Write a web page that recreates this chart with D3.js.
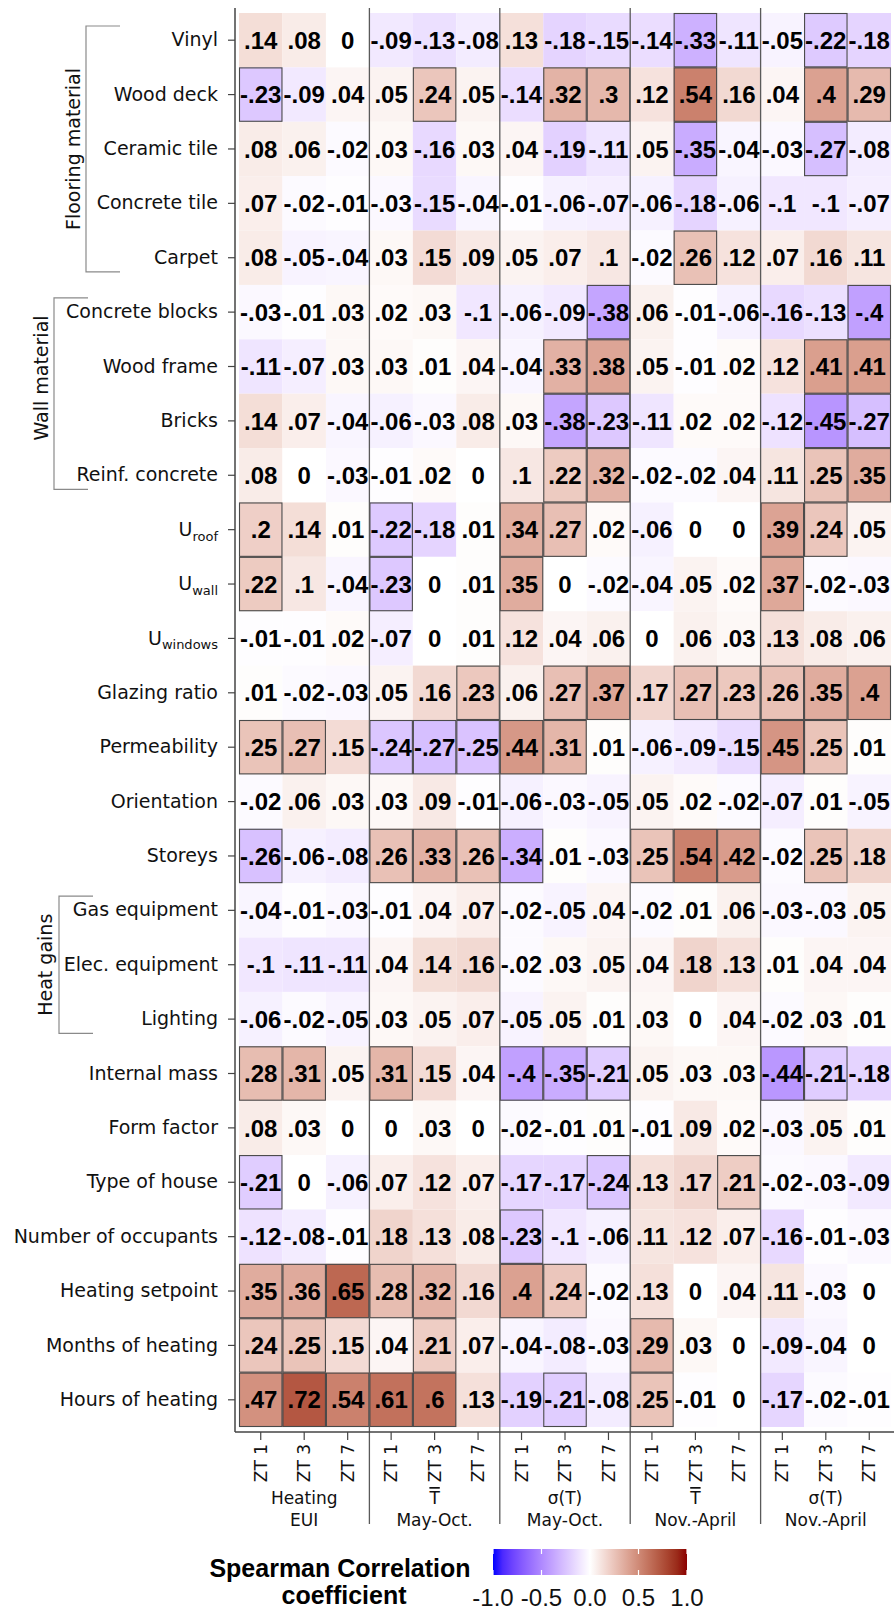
<!DOCTYPE html>
<html>
<head>
<meta charset="utf-8">
<script src="https://cdn.jsdelivr.net/npm/d3@7"></script>
<style>
  html, body { margin: 0; padding: 0; background: #fff; }
  svg { display: block; }
</style>
</head>
<body>
<script>
// Building parameters (rows of the heatmap)
const rowLabels = [
  "Vinyl", "Wood deck", "Ceramic tile", "Concrete tile", "Carpet",
  "Concrete blocks", "Wood frame", "Bricks", "Reinf. concrete",
  "Uroof", "Uwall", "Uwindows",
  "Glazing ratio", "Permeability", "Orientation", "Storeys",
  "Gas equipment", "Elec. equipment", "Lighting",
  "Internal mass", "Form factor", "Type of house", "Number of occupants",
  "Heating setpoint", "Months of heating", "Hours of heating"
];

// Thermal zones shown inside each output group
const zones = ["ZT 1", "ZT 3", "ZT 7"];

// Output groups: two-line titles
const groupTitles = [
  ["Heating", "EUI"],
  ["T", "May-Oct."],
  ["σ(T)", "May-Oct."],
  ["T", "Nov.-April"],
  ["σ(T)", "Nov.-April"]
];
const groupKeys = ["eui", "tMay", "sMay", "tNov", "sNov"];

// Spearman coefficients, one row per building parameter, columns ZT 1 / ZT 3 / ZT 7
const heatingEUI = [
  [.14, .08, 0], [-.23, -.09, .04], [.08, .06, -.02], [.07, -.02, -.01], [.08, -.05, -.04],
  [-.03, -.01, .03], [-.11, -.07, .03], [.14, .07, -.04], [.08, 0, -.03],
  [.2, .14, .01], [.22, .1, -.04], [-.01, -.01, .02],
  [.01, -.02, -.03], [.25, .27, .15], [-.02, .06, .03], [-.26, -.06, -.08],
  [-.04, -.01, -.03], [-.1, -.11, -.11], [-.06, -.02, -.05],
  [.28, .31, .05], [.08, .03, 0], [-.21, 0, -.06], [-.12, -.08, -.01],
  [.35, .36, .65], [.24, .25, .15], [.47, .72, .54]
];
const meanTMayOct = [
  [-.09, -.13, -.08], [.05, .24, .05], [.03, -.16, .03], [-.03, -.15, -.04], [.03, .15, .09],
  [.02, .03, -.1], [.03, .01, .04], [-.06, -.03, .08], [-.01, .02, 0],
  [-.22, -.18, .01], [-.23, 0, .01], [-.07, 0, .01],
  [.05, .16, .23], [-.24, -.27, -.25], [.03, .09, -.01], [.26, .33, .26],
  [-.01, .04, .07], [.04, .14, .16], [.03, .05, .07],
  [.31, .15, .04], [0, .03, 0], [.07, .12, .07], [.18, .13, .08],
  [.28, .32, .16], [.04, .21, .07], [.61, .6, .13]
];
const sdTMayOct = [
  [.13, -.18, -.15], [-.14, .32, .3], [.04, -.19, -.11], [-.01, -.06, -.07], [.05, .07, .1],
  [-.06, -.09, -.38], [-.04, .33, .38], [.03, -.38, -.23], [.1, .22, .32],
  [.34, .27, .02], [.35, 0, -.02], [.12, .04, .06],
  [.06, .27, .37], [.44, .31, .01], [-.06, -.03, -.05], [-.34, .01, -.03],
  [-.02, -.05, .04], [-.02, .03, .05], [-.05, .05, .01],
  [-.4, -.35, -.21], [-.02, -.01, .01], [-.17, -.17, -.24], [-.23, -.1, -.06],
  [.4, .24, -.02], [-.04, -.08, -.03], [-.19, -.21, -.08]
];
const meanTNovApr = [
  [-.14, -.33, -.11], [.12, .54, .16], [.05, -.35, -.04], [-.06, -.18, -.06], [-.02, .26, .12],
  [.06, -.01, -.06], [.05, -.01, .02], [-.11, .02, .02], [-.02, -.02, .04],
  [-.06, 0, 0], [-.04, .05, .02], [0, .06, .03],
  [.17, .27, .23], [-.06, -.09, -.15], [.05, .02, -.02], [.25, .54, .42],
  [-.02, .01, .06], [.04, .18, .13], [.03, 0, .04],
  [.05, .03, .03], [-.01, .09, .02], [.13, .17, .21], [.11, .12, .07],
  [.13, 0, .04], [.29, .03, 0], [.25, -.01, 0]
];
const sdTNovApr = [
  [-.05, -.22, -.18], [.04, .4, .29], [-.03, -.27, -.08], [-.1, -.1, -.07], [.07, .16, .11],
  [-.16, -.13, -.4], [.12, .41, .41], [-.12, -.45, -.27], [.11, .25, .35],
  [.39, .24, .05], [.37, -.02, -.03], [.13, .08, .06],
  [.26, .35, .4], [.45, .25, .01], [-.07, .01, -.05], [-.02, .25, .18],
  [-.03, -.03, .05], [.01, .04, .04], [-.02, .03, .01],
  [-.44, -.21, -.18], [-.03, .05, .01], [-.02, -.03, -.09], [-.16, -.01, -.03],
  [.11, -.03, 0], [-.09, -.04, 0], [-.17, -.02, -.01]
];
const groupValues = [heatingEUI, meanTMayOct, sdTMayOct, meanTNovApr, sdTNovApr];

// Parameter families drawn as brackets on the left
const families = [
  { name: "Flooring material", from: "Vinyl", to: "Carpet" },
  { name: "Wall material", from: "Concrete blocks", to: "Reinf. concrete" },
  { name: "Heat gains", from: "Gas equipment", to: "Lighting" }
];

// Legend breaks
const legendBreaks = [-1, -0.5, 0, 0.5, 1];

// ---------------------------------------------------------------------------
const W = 894, H = 1611;
const svg = d3.select("body").append("svg").attr("width", W).attr("height", H);

const colKeys = [];
groupKeys.forEach(g => zones.forEach(z => colKeys.push(g + "|" + z)));

const x = d3.scaleBand().domain(colKeys).range([239, 891]).padding(0);
const y = d3.scaleBand().domain(rowLabels).range([13, 1427]).padding(0);
const color = d3.scaleLinear().domain([-1, 0, 1])
  .range(["#0000ff", "#ffffff", "#8b0000"]).interpolate(d3.interpolateLab);

const cells = [];
rowLabels.forEach((r, i) => {
  groupKeys.forEach((g, gi) => {
    zones.forEach((z, zi) => {
      cells.push({ row: r, col: g + "|" + z, value: groupValues[gi][i][zi] });
    });
  });
});

// ".14", "-.09", "0", ".2" style labels with an ASCII hyphen
function fmt(v) {
  if (v === 0) return "0";
  const s = d3.format(".2f")(v).replace("\u2212", "-").replace(/0+$/, "");
  return s.replace(/^(-?)0\./, "$1.");
}
const strong = d => Math.abs(d.value) >= 0.195;

const axisFont = "'DejaVu Sans', Verdana, sans-serif";
const boldFont = "'Liberation Sans', Arial, sans-serif";

// tiles
svg.append("g").selectAll("rect")
  .data(cells).join("rect")
  .attr("x", d => x(d.col)).attr("y", d => y(d.row))
  .attr("width", x.bandwidth()).attr("height", y.bandwidth())
  .attr("fill", d => color(d.value));

// outlines for |r| >= 0.2
svg.append("g").selectAll("rect")
  .data(cells.filter(strong)).join("rect")
  .attr("x", d => x(d.col) + 0.5).attr("y", d => y(d.row) + 0.5)
  .attr("width", x.bandwidth() - 1).attr("height", y.bandwidth() - 1)
  .attr("fill", "none").attr("stroke", "#4a4a4a").attr("stroke-width", 1.1);

// group separators
const sepX = groupKeys.slice(1).map(g => x(g + "|" + zones[0]));
svg.append("g").selectAll("line")
  .data(sepX).join("line")
  .attr("x1", d => d).attr("x2", d => d)
  .attr("y1", 8).attr("y2", 1524)
  .attr("stroke", "#5a5a5a").attr("stroke-width", 1.3);

// value labels
svg.append("g").selectAll("text")
  .data(cells).join("text")
  .attr("x", d => x(d.col) + x.bandwidth() / 2)
  .attr("y", d => y(d.row) + y.bandwidth() / 2)
  .attr("dy", "0.36em")
  .attr("text-anchor", "middle")
  .attr("font-family", boldFont).attr("font-weight", "bold").attr("font-size", 24)
  .attr("fill", "#000")
  .text(d => fmt(d.value));

// panel axis lines
svg.append("line").attr("x1", 235).attr("x2", 235).attr("y1", 8).attr("y2", 1432)
  .attr("stroke", "#444").attr("stroke-width", 1.5);
svg.append("line").attr("x1", 235).attr("x2", 894).attr("y1", 1432).attr("y2", 1432)
  .attr("stroke", "#444").attr("stroke-width", 1.5);

// left axis
const subs = { "Uroof": "roof", "Uwall": "wall", "Uwindows": "windows" };
const yAxis = svg.append("g").attr("transform", "translate(235,0)")
  .call(d3.axisLeft(y).tickSize(7).tickPadding(10));
yAxis.select(".domain").remove();
yAxis.selectAll(".tick line").attr("stroke", "#444").attr("stroke-width", 1.2);
yAxis.selectAll(".tick text")
  .attr("font-family", axisFont).attr("font-size", 19).attr("fill", "#111")
  .each(function (d) {
    if (subs[d]) {
      const t = d3.select(this).text(null);
      t.append("tspan").text("U");
      t.append("tspan").attr("font-size", 13).attr("dy", "0.38em").text(subs[d]);
    }
  });

// bottom axis
const xAxis = svg.append("g").attr("transform", "translate(0,1432)")
  .call(d3.axisBottom(x).tickSize(8).tickFormat(d => d.split("|")[1]));
xAxis.select(".domain").remove();
xAxis.selectAll(".tick line").attr("stroke", "#444").attr("stroke-width", 1.2);
xAxis.selectAll(".tick text")
  .attr("font-family", axisFont).attr("font-size", 17).attr("fill", "#111")
  .attr("transform", "rotate(-90)")
  .attr("text-anchor", "end")
  .attr("x", -12).attr("y", 0).attr("dy", "0.36em");

// group titles under the axis
groupTitles.forEach((lines, gi) => {
  const cx = x(groupKeys[gi] + "|ZT 3") + x.bandwidth() / 2;
  lines.forEach((ln, li) => {
    const t = svg.append("text")
      .attr("x", cx).attr("y", 1504 + li * 22)
      .attr("text-anchor", "middle")
      .attr("font-family", axisFont).attr("font-size", 17).attr("fill", "#111")
      .text(ln);
    if (ln === "T") t.style("text-decoration", "overline");
  });
});

// family brackets
const famLayout = {
  "Flooring material": { bx: 86, ex: 120, tx: 73, ty: null },
  "Wall material": { bx: 54, ex: 88, tx: 41, ty: 378 },
  "Heat gains": { bx: 59, ex: 93, tx: 45, ty: null }
};
families.forEach(f => {
  const L = famLayout[f.name];
  const y0 = y(f.from) + 13, y1 = y(f.to) + y.bandwidth() - 13;
  svg.append("path")
    .attr("d", `M${L.ex},${y0}H${L.bx}V${y1}H${L.ex}`)
    .attr("fill", "none").attr("stroke", "#8a8a8a").attr("stroke-width", 1.2);
  const ty = L.ty === null ? (y0 + y1) / 2 : L.ty;
  svg.append("text")
    .attr("transform", `translate(${L.tx},${ty}) rotate(-90)`)
    .attr("text-anchor", "middle").attr("dy", "0.36em")
    .attr("font-family", axisFont).attr("font-size", 19).attr("fill", "#111")
    .text(f.name);
});

// colour legend
const lx = d3.scaleLinear().domain([-1, 1]).range([493, 687]);
const defs = svg.append("defs");
const grad = defs.append("linearGradient").attr("id", "corrGrad")
  .attr("x1", "0%").attr("x2", "100%").attr("y1", "0%").attr("y2", "0%");
d3.range(0, 1.0001, 0.05).forEach(t => {
  grad.append("stop").attr("offset", (t * 100) + "%").attr("stop-color", color(-1 + 2 * t));
});
const barY = 1549, barH = 26;
svg.append("rect").attr("x", lx(-1)).attr("y", barY).attr("width", lx(1) - lx(-1)).attr("height", barH)
  .attr("fill", "url(#corrGrad)");
legendBreaks.forEach(b => {
  svg.append("line").attr("x1", lx(b)).attr("x2", lx(b)).attr("y1", barY).attr("y2", barY + 5)
    .attr("stroke", "#fff").attr("stroke-width", 1.2);
  svg.append("line").attr("x1", lx(b)).attr("x2", lx(b)).attr("y1", barY + barH - 5).attr("y2", barY + barH)
    .attr("stroke", "#fff").attr("stroke-width", 1.2);
});
svg.append("g").selectAll("text").data(legendBreaks).join("text")
  .attr("x", d => lx(d)).attr("y", 1606)
  .attr("text-anchor", "middle")
  .attr("font-family", boldFont).attr("font-size", 24).attr("fill", "#111")
  .text(d => d3.format(".1f")(d).replace("\u2212", "-"));

const title = svg.append("text")
  .attr("text-anchor", "middle")
  .attr("font-family", boldFont).attr("font-weight", "bold").attr("font-size", 25).attr("fill", "#000");
title.append("tspan").attr("x", 340).attr("y", 1577).text("Spearman Correlation");
title.append("tspan").attr("x", 344).attr("y", 1604).text("coefficient");
</script>
</body>
</html>
